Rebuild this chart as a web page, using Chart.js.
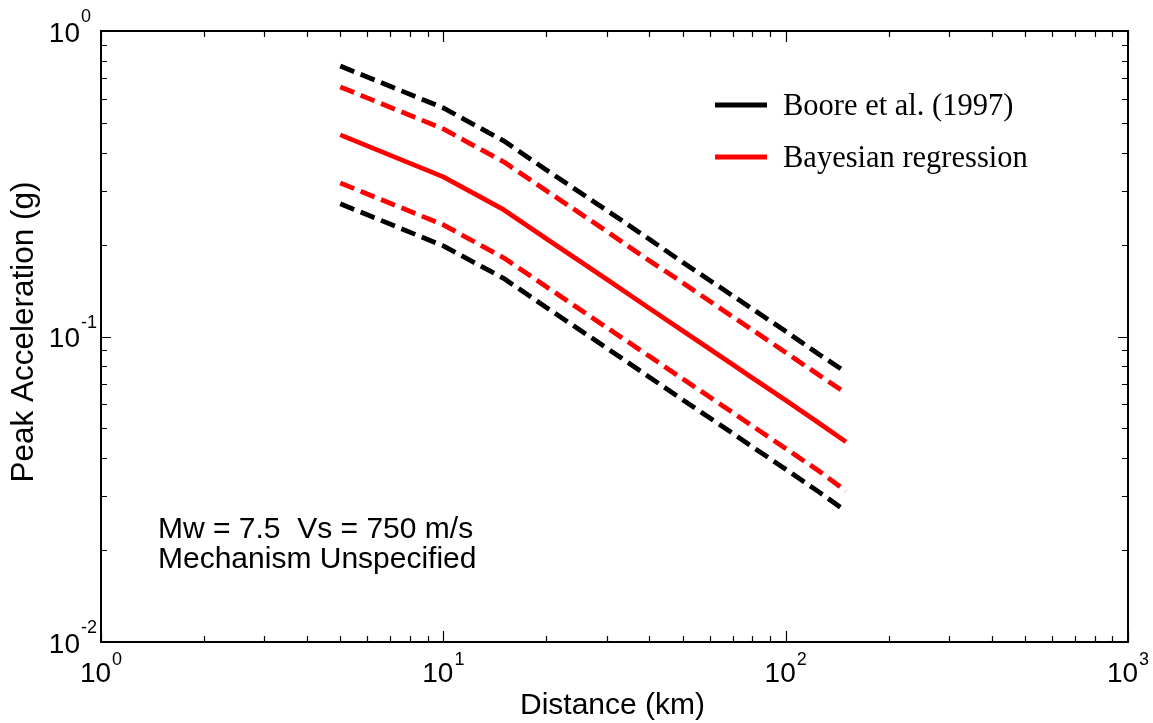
<!DOCTYPE html>
<html><head><meta charset="utf-8">
<script src="https://cdn.jsdelivr.net/npm/chart.js@4/dist/chart.umd.min.js"></script>
<style>html,body{margin:0;padding:0;background:#fff}canvas{display:block}</style>
</head><body>
<canvas id="c" width="1153" height="723"></canvas>
<script>
// ---- data ----
const distances   = [5, 10, 15, 20, 30, 40, 50, 70, 80, 100, 125, 150];
const booreUpper  = [0.768, 0.560, 0.437, 0.351, 0.259, 0.208, 0.175, 0.136, 0.123, 0.104, 0.0875, 0.0764];
const bayesUpper  = [0.656, 0.478, 0.373, 0.300, 0.221, 0.177, 0.150, 0.116, 0.105, 0.0887, 0.0748, 0.0653];
const bayesMedian = [0.457, 0.333, 0.260, 0.209, 0.154, 0.1236, 0.1044, 0.081, 0.0731, 0.0618, 0.0521, 0.0452];
const bayesLower  = [0.318, 0.232, 0.181, 0.1455, 0.107, 0.0861, 0.0727, 0.0564, 0.0509, 0.0430, 0.0363, 0.0312];
const booreLower  = [0.272, 0.198, 0.155, 0.1244, 0.0917, 0.0736, 0.0621, 0.0482, 0.0435, 0.0368, 0.0310, 0.0268];

const xTickValues = [1, 10, 100, 1000];
const xTickExponents = ['0', '1', '2', '3'];
const yTickValues = [0.01, 0.1, 1];
const yTickExponents = ['-2', '-1', '0'];
const minorMultipliers = [2, 3, 4, 5, 6, 7, 8, 9];

const legendLabels = ['Boore et al. (1997)', 'Bayesian regression'];
const legendColors = ['#000000', '#ff0000'];
const annotationLines = ['Mw = 7.5  Vs = 750 m/s', 'Mechanism Unspecified'];
const xTitle = 'Distance (km)';
const yTitle = 'Peak Acceleration (g)';

const SANS = "Arial, 'Liberation Sans', sans-serif";
const SERIF = "'Times New Roman', 'Liberation Serif', serif";

function series(vals) { return distances.map((d, i) => ({x: d, y: vals[i]})); }

const dash = [15, 7];
const datasets = [
  {label: 'Boore upper', data: series(booreUpper), borderColor: '#000', borderDash: dash},
  {label: 'Bayesian upper', data: series(bayesUpper), borderColor: '#ff0000', borderDash: dash},
  {label: 'Bayesian median', data: series(bayesMedian), borderColor: '#ff0000', borderDash: []},
  {label: 'Bayesian lower', data: series(bayesLower), borderColor: '#ff0000', borderDash: dash},
  {label: 'Boore lower', data: series(booreLower), borderColor: '#000', borderDash: dash}
].map(d => Object.assign(d, {borderWidth: 4.8, pointRadius: 0, fill: false, tension: 0, borderCapStyle: 'butt', borderJoinStyle: 'round'}));

const decor = {
  id: 'decor',
  afterDraw(chart) {
    const ctx = chart.ctx, a = chart.chartArea;
    const xs = chart.scales.x, ys = chart.scales.y;
    ctx.save();
    ctx.strokeStyle = '#000';
    ctx.fillStyle = '#000';
    // frame
    ctx.lineWidth = 2;
    ctx.strokeRect(a.left, a.top, a.right - a.left, a.bottom - a.top);
    // ticks
    ctx.lineWidth = 1.2;
    const drawX = (v, len) => {
      const p = Math.round(xs.getPixelForValue(v)) + 0.5;
      ctx.beginPath();
      ctx.moveTo(p, a.bottom); ctx.lineTo(p, a.bottom - len);
      ctx.moveTo(p, a.top); ctx.lineTo(p, a.top + len);
      ctx.stroke();
    };
    const drawY = (v, len) => {
      const p = Math.round(ys.getPixelForValue(v)) + 0.5;
      ctx.beginPath();
      ctx.moveTo(a.left, p); ctx.lineTo(a.left + len, p);
      ctx.moveTo(a.right, p); ctx.lineTo(a.right - len, p);
      ctx.stroke();
    };
    xTickValues.forEach((v, i) => {
      drawX(v, 11);
      if (i < xTickValues.length - 1) minorMultipliers.forEach(m => drawX(v * m, 6));
    });
    yTickValues.forEach((v, i) => {
      drawY(v, 10);
      if (i < yTickValues.length - 1) minorMultipliers.forEach(m => drawY(v * m, 6));
    });
    // x tick labels
    ctx.textBaseline = 'alphabetic';
    xTickValues.forEach((v, i) => {
      const p = xs.getPixelForValue(v);
      ctx.font = '28px ' + SANS;
      const w1 = ctx.measureText('10').width;
      ctx.font = '18px ' + SANS;
      const w2 = ctx.measureText(xTickExponents[i]).width;
      const x0 = p - (w1 + 1 + w2) / 2;
      ctx.textAlign = 'left';
      ctx.font = '28px ' + SANS;
      ctx.fillText('10', x0, a.bottom + 40);
      ctx.font = '18px ' + SANS;
      ctx.fillText(xTickExponents[i], x0 + w1 + 1, a.bottom + 23);
    });
    // y tick labels
    yTickValues.forEach((v, i) => {
      const p = ys.getPixelForValue(v);
      ctx.textAlign = 'right';
      ctx.font = '28px ' + SANS;
      ctx.fillText('10', 80, p + 10.5);
      ctx.textAlign = 'left';
      ctx.font = '18px ' + SANS;
      ctx.fillText(yTickExponents[i], 81, p - 9);
    });
    // axis titles
    ctx.font = '30px ' + SANS;
    ctx.textAlign = 'center';
    ctx.fillText(xTitle, (a.left + a.right) / 2 - 2, 714);
    ctx.save();
    ctx.translate(33, 332);
    ctx.rotate(-Math.PI / 2);
    ctx.font = '31.5px ' + SANS;
    ctx.fillText(yTitle, 0, 0);
    ctx.restore();
    // annotation
    ctx.textAlign = 'left';
    ctx.font = '30px ' + SANS;
    annotationLines.forEach((t, i) => ctx.fillText(t, 158, 538 + i * 30));
    // legend
    legendLabels.forEach((t, i) => {
      const y = 105 + i * 52;
      ctx.strokeStyle = legendColors[i];
      ctx.lineWidth = 5;
      ctx.beginPath();
      ctx.moveTo(715, y); ctx.lineTo(767, y);
      ctx.stroke();
      ctx.font = '30.5px ' + SERIF;
      ctx.fillStyle = '#000';
      ctx.fillText(t, 783, y + 10);
    });
    ctx.restore();
  }
};

new Chart(document.getElementById('c'), {
  type: 'line',
  data: {datasets},
  options: {
    responsive: false,
    animation: false,
    layout: {padding: {left: 101, right: 25, top: 31, bottom: 81}},
    plugins: {legend: {display: false}, tooltip: {enabled: false}},
    scales: {
      x: {type: 'logarithmic', min: 1, max: 1000, display: false},
      y: {type: 'logarithmic', min: 0.01, max: 1, display: false}
    }
  },
  plugins: [decor]
});
</script>
</body></html>
